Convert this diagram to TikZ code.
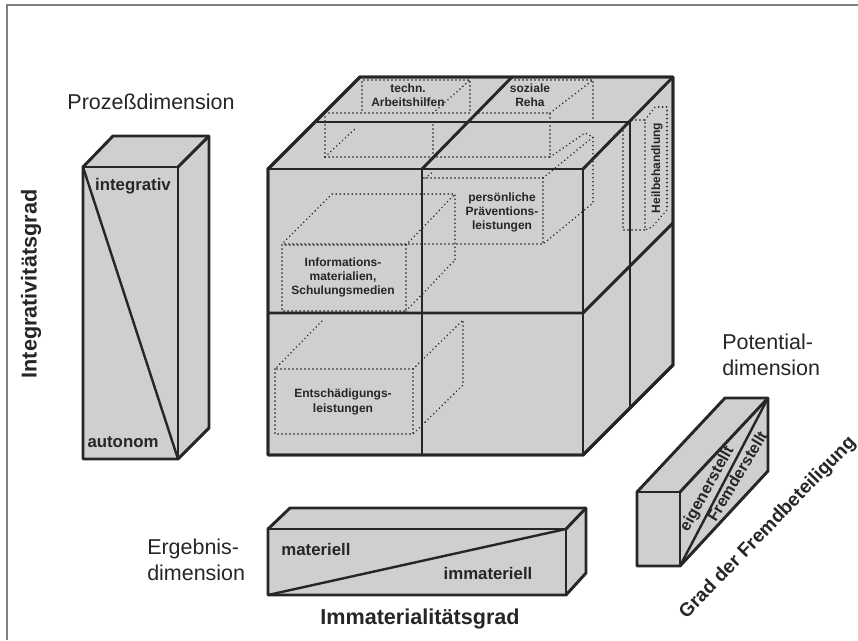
\documentclass[tikz,border=0pt]{standalone}
\usepackage{fontspec}
\setmainfont{Liberation Sans}
\definecolor{ink}{HTML}{262626}
\definecolor{shade}{HTML}{CFCFCF}
\definecolor{framegray}{HTML}{808080}
\tikzset{
  x=0.75pt,y=-0.75pt,
  boxface/.style={fill=shade,draw=ink,line width=2.2pt,line join=round},
  heavy/.style={draw=ink,line width=2.2pt},
  thinheavy/.style={draw=ink,line width=1.8pt},
  hidden/.style={draw=ink,line width=1.3pt,line cap=round,dash pattern=on 0.05pt off 2.95pt},
  cell/.style={font=\fontsize{9}{10.8}\selectfont\bfseries,text=ink,align=center,inner sep=0pt},
  tag/.style={font=\fontsize{12.6}{14}\selectfont\bfseries,text=ink,inner sep=0pt},
  slanted tag/.style={font=\fontsize{12}{14}\selectfont\bfseries,text=ink,inner sep=0pt},
  axis/.style={font=\fontsize{16.2}{18}\selectfont\bfseries,text=ink,inner sep=0pt},
  dimlabel/.style={font=\fontsize{16.1}{19.5}\selectfont,text=ink,inner sep=0pt}
}
\begin{document}
\begin{tikzpicture}
\useasboundingbox (0,0) rectangle (858,640);
\fill[white] (0,0) rectangle (858,640);
\draw[framegray,line width=1pt] (7,640) -- (7,5) -- (858,5);
% main cube
\coordinate (fa) at (268,169); \coordinate (fb) at (583,169);
\coordinate (fc) at (583,455); \coordinate (fd) at (268,455);
\coordinate (ba) at (360,77);  \coordinate (bb) at (673,77);
\coordinate (bc) at (673,365);
\filldraw[boxface] (fa) -- (ba) -- (bb) -- (bc) -- (fc) -- (fd) -- cycle;
% hidden boxes
\draw[hidden] (325,157) -- (325,113) -- (470,113) -- (470,80) -- (362,80) -- (362,113);
\draw[hidden] (325,157) -- (550,157) -- (550,113) -- (477,113);
\draw[hidden] (433,157) -- (433,122);
\draw[hidden] (325,157) -- (357,127);
\draw[hidden] (433,113) -- (470,80);
\draw[hidden] (515,80) -- (593,80) -- (593,122);
\draw[hidden] (550,113) -- (593,80);
\draw[hidden] (550,157) -- (585,133) -- (593,137) -- (593,203) -- (543,244);
\draw[hidden] (543,178) -- (593,137);
\draw[hidden] (423,178) -- (543,178) -- (543,244) -- (282,244);
\draw[hidden] (425,178) -- (433,172);
\draw[hidden] (282,245) rectangle (406,311);
\draw[hidden] (284,242) -- (332,194) -- (455,194) -- (455,260);
\draw[hidden] (406,245) -- (455,194);
\draw[hidden] (406,311) -- (455,260);
\draw[hidden] (275,369) rectangle (413,434);
\draw[hidden] (277,367) -- (323,320);
\draw[hidden] (413,369) -- (463,320) -- (463,385) -- (413,434);
\draw[hidden] (623,127) -- (623,230) -- (645,230) -- (645,120) -- (630,120);
\draw[hidden] (645,120) -- (655,107) -- (667,107) -- (667,210) -- (652,227) -- (645,230);
% cube edges
\draw[heavy] (fa) -- (fb) (fb) -- (fc);
\draw[heavy] (317,122) -- (630,122) -- (630,407);
\draw[heavy] (422,169) -- (422,455);
\draw[heavy] (268,313) -- (583,313) -- (673,223);
\draw[heavy] (422,169) -- (512,77);
\draw[heavy] (583,169) -- (bb);
\filldraw[boxface,fill=none] (fa) -- (ba) -- (bb) -- (bc) -- (fc) -- (fd) -- cycle;
% cube labels
\node[cell] (techn) at (408,95) {techn.\\Arbeitshilfen};
\node[cell] (soz) at (530,95) {soziale\\Reha};
\node[cell] (pers) at (502,212.5) {persönliche\\Präventions-\\leistungen};
\node[cell] (info) at (343,277.5) {Informations-\\materialien,\\Schulungsmedien};
\node[cell] (ent) at (343,402) {Entschädigungs-\\leistungen};
\node[cell,rotate=90] (heil) at (657,168) {Heilbehandlung};
% left box
\filldraw[boxface] (83,167) -- (113,136) -- (209,136) -- (209,428) -- (178,459) -- (83,459) -- cycle;
\draw[heavy] (83,167) -- (178,167) -- (178,459);
\draw[heavy] (178,167) -- (209,136);
\draw[thinheavy] (83,167) -- (178,459);
\node[tag] (integ) at (133,186) {integrativ};
\node[tag] (auton) at (123,442) {autonom};
% bottom box
\filldraw[boxface] (268,529) -- (290,508) -- (586,508) -- (586,573) -- (566,595) -- (268,595) -- cycle;
\draw[heavy] (268,529) -- (566,529) -- (566,595);
\draw[heavy] (566,529) -- (586,508);
\draw[thinheavy] (268,595) -- (566,529);
\node[tag] (mat) at (316,549) {materiell};
\node[tag] (immat) at (488,573) {immateriell};
% potential box
\filldraw[boxface] (637,492) -- (725,398) -- (768,398) -- (768,471) -- (680,566) -- (637,566) -- cycle;
\draw[heavy] (637,492) -- (680,492) -- (680,566);
\draw[heavy] (680,492) -- (768,398);
\draw[thinheavy] (680,566) -- (768,398);
\node[slanted tag,rotate=61] (eig) at (707.5,489) {eigenerstellt};
\node[slanted tag,rotate=59] (frem) at (737,476) {Fremderstellt};
% outer labels
\node[dimlabel] (proz) at (151,102) {Prozeßdimension};
\node[dimlabel,align=left,anchor=west] (erg) at (147,560) {Ergebnis-\\dimension};
\node[dimlabel,align=left,anchor=west] (pot) at (722,355) {Potential-\\dimension};
\node[axis] (immgrad) at (420,619) {Immaterialitätsgrad};
\node[axis,rotate=90] (intgrad) at (31,284) {Integrativitätsgrad};
\node[axis,font=\fontsize{14.3}{18}\selectfont\bfseries,rotate=46] (fremd) at (768,528) {Grad der Fremdbeteiligung};
\end{tikzpicture}
\end{document}
